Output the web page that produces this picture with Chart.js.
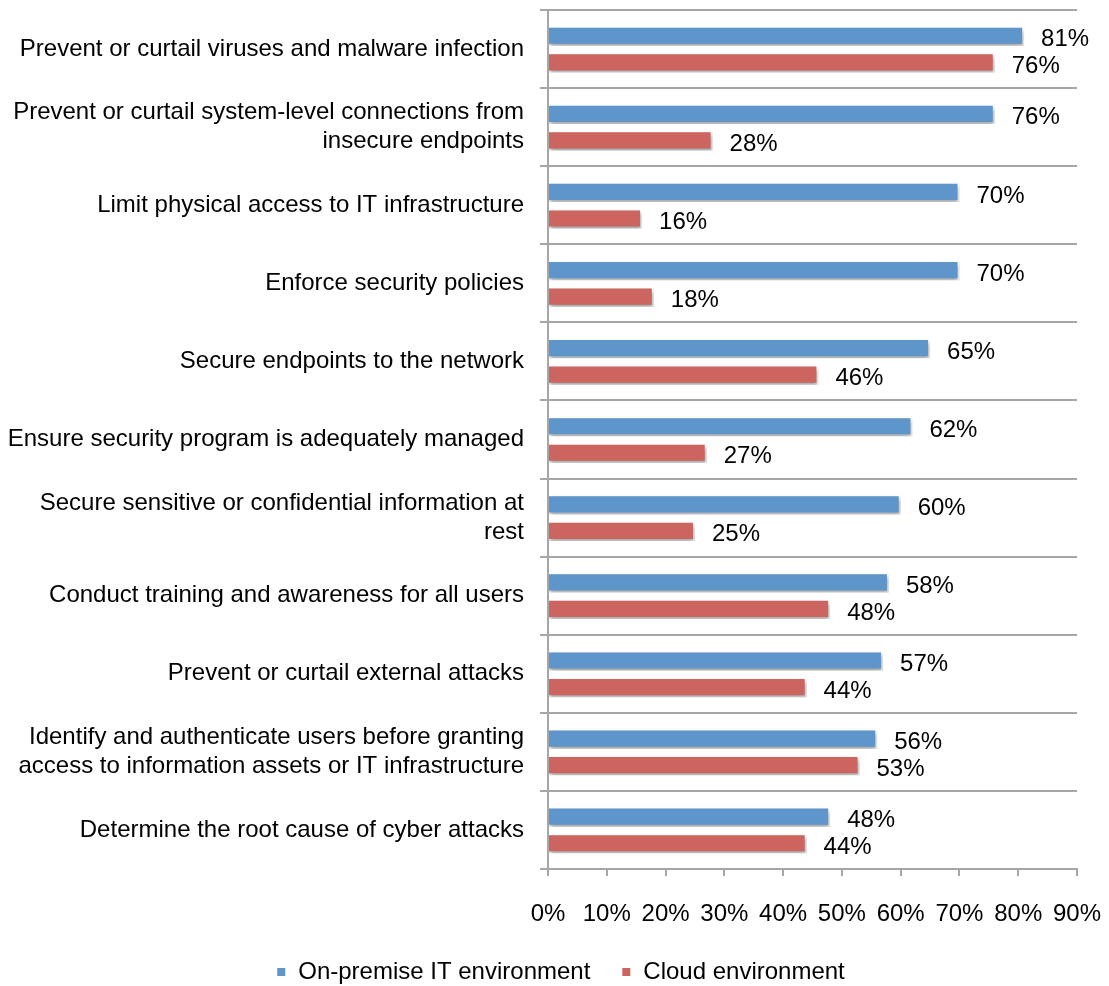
<!DOCTYPE html>
<html>
<head>
<meta charset="utf-8">
<script src="https://cdn.jsdelivr.net/npm/chart.js@4/dist/chart.umd.min.js"></script>
<style>
  html, body { margin: 0; padding: 0; background: #fff; }
  #wrap { width: 1109px; height: 986px; position: relative; }
</style>
</head>
<body>
<div id="wrap"><canvas id="myChart"></canvas></div>
<script>
const categories = [
  'Prevent or curtail viruses and malware infection',
  ['Prevent or curtail system-level connections from', 'insecure endpoints'],
  'Limit physical access to IT infrastructure',
  'Enforce security policies',
  'Secure endpoints to the network',
  'Ensure security program is adequately managed',
  ['Secure sensitive or confidential information at', 'rest'],
  'Conduct training and awareness for all users',
  'Prevent or curtail external attacks',
  ['Identify and authenticate users before granting', 'access to information assets or IT infrastructure'],
  'Determine the root cause of cyber attacks'
]
const onPremise = [81, 76, 70, 70, 65, 62, 60, 58, 57, 56, 48]
const cloud = [76, 28, 16, 18, 46, 27, 25, 48, 44, 53, 44]

const FONT = 'Arial, "Liberation Sans", sans-serif'
const FSIZE = 24
const gridGray = '#a6a6a6'

// soft shadow under each bar, like the Excel original
const shadowPlugin = {
  id: 'barShadow',
  beforeDatasetDraw(chart) {
    const ctx = chart.ctx
    ctx.save()
    ctx.shadowColor = 'rgba(0,0,0,0.35)'
    ctx.shadowBlur = 4
    ctx.shadowOffsetX = 1
    ctx.shadowOffsetY = 3
  },
  afterDatasetDraw(chart) {
    chart.ctx.restore()
  }
}

const valueLabels = {
  id: 'valueLabels',
  afterDatasetsDraw(chart) {
    const ctx = chart.ctx
    ctx.save()
    ctx.font = FSIZE + 'px ' + FONT
    ctx.fillStyle = '#000'
    ctx.textAlign = 'left'
    ctx.textBaseline = 'middle'
    chart.data.datasets.forEach((ds, i) => {
      chart.getDatasetMeta(i).data.forEach((bar, j) => {
        ctx.fillText(ds.data[j] + '%', bar.x + 17, bar.y + 4)
      })
    })
    ctx.restore()
  }
}

// legend sits a bit right of the canvas centre in the original
const legendShift = {
  id: 'legendShift',
  afterLayout(chart) {
    const lg = chart.legend
    if (lg) {
      lg.left += 22
      lg.right += 22
    }
  }
}

const data = {
  labels: categories,
  datasets: [{
    label: 'On-premise IT environment',
    data: onPremise,
    backgroundColor: '#5e96cc',
    borderColor: '#ffffff',
    borderWidth: 2,
    categoryPercentage: 0.68,
    barPercentage: 0.76
  }, {
    label: 'Cloud environment',
    data: cloud,
    backgroundColor: '#cc6560',
    borderColor: '#ffffff',
    borderWidth: 2,
    categoryPercentage: 0.68,
    barPercentage: 0.76
  }]
}

const config = {
  type: 'bar',
  data: data,
  options: {
    indexAxis: 'y',
    responsive: true,
    maintainAspectRatio: false,
    animation: false,
    layout: { padding: { left: 0, right: 32, top: 10, bottom: -8 } },
    scales: {
      x: {
        min: 0,
        max: 90,
        afterFit(scale) {
          scale.height = 60
          scale.paddingLeft = 0
          scale.paddingRight = 0
        },
        ticks: {
          stepSize: 10,
          padding: 24,
          maxRotation: 0,
          color: '#000',
          font: { family: FONT, size: FSIZE },
          callback: v => v + '%'
        },
        grid: {
          drawOnChartArea: false,
          drawTicks: true,
          tickLength: 7,
          color: gridGray,
          lineWidth: 2
        },
        border: { color: gridGray, width: 2 }
      },
      y: {
        afterFit(scale) {
          scale.width = 548
          scale.paddingTop = 0
          scale.paddingBottom = 0
        },
        ticks: {
          padding: 16,
          color: '#000',
          font: { family: FONT, size: FSIZE }
        },
        grid: {
          offset: true,
          tickLength: 8,
          color: gridGray,
          lineWidth: 2
        },
        border: { color: gridGray, width: 2 }
      }
    },
    plugins: {
      tooltip: { enabled: false },
      legend: {
        position: 'bottom',
        labels: {
          boxWidth: 10,
          boxHeight: 10,
          padding: 31,
          color: '#000',
          font: { family: FONT, size: FSIZE }
        }
      }
    }
  },
  plugins: [shadowPlugin, valueLabels, legendShift]
}

let myChart = new Chart(document.getElementById('myChart'), config)
</script>
</body>
</html>
